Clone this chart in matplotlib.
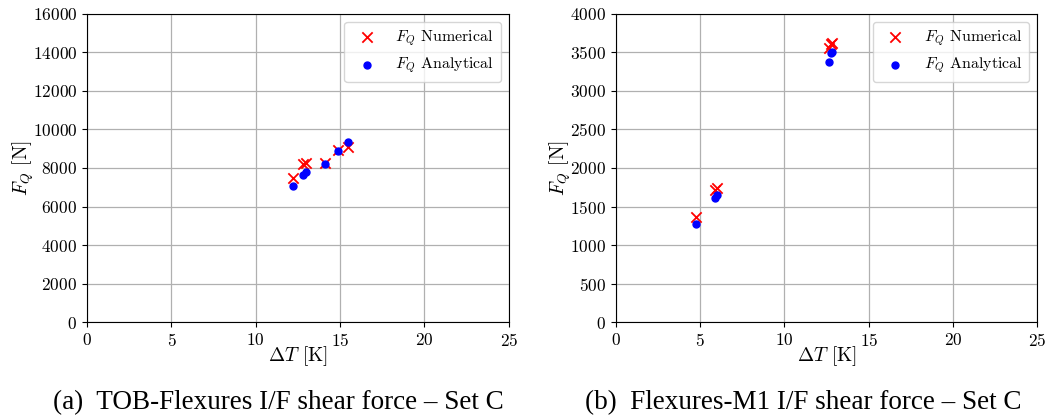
import matplotlib
matplotlib.use("Agg")
import matplotlib.pyplot as plt

plt.rcParams["font.family"] = "serif"
plt.rcParams["font.serif"] = ["cmr10", "DejaVu Serif"]
plt.rcParams["mathtext.fontset"] = "cm"
plt.rcParams["axes.formatter.use_mathtext"] = True

# TOB-Flexures I/F shear force, Set C
dT_a = [12.22, 12.82, 12.95, 14.1, 14.89, 15.48]
fq_num_a = [7465, 8208, 8244, 8244, 8935, 9075]
fq_ana_a = [7065, 7636, 7810, 8190, 8883, 9366]

# Flexures-M1 I/F shear force, Set C
dT_b = [4.76, 5.88, 5.98, 12.65, 12.75, 12.81]
fq_num_b = [1368, 1714, 1736, 3560, 3607, 3620]
fq_ana_b = [1273, 1606, 1650, 3373, 3497, 3500]

fig = plt.figure(figsize=(10.49, 4.2), dpi=100)
ax1 = fig.add_axes([0.083, 0.233, 0.402, 0.734])
ax2 = fig.add_axes([0.587, 0.233, 0.402, 0.734])

panels = [
    (ax1, dT_a, fq_num_a, fq_ana_a, 16000, 0.265,
     "(a)  TOB-Flexures I/F shear force – Set C"),
    (ax2, dT_b, fq_num_b, fq_ana_b, 4000, 0.766,
     "(b)  Flexures-M1 I/F shear force – Set C"),
]

for ax, x, num, ana, ymax, cx, caption in panels:
    ax.scatter(x, num, marker="x", color="red", s=55, linewidths=1.3,
               label=r"$F_Q$ Numerical", zorder=3)
    ax.scatter(x, ana, marker="o", color="blue", s=25,
               label=r"$F_Q$ Analytical", zorder=3)
    ax.set_xlim(0, 25)
    ax.set_ylim(0, ymax)
    ax.grid(True, color="#b0b0b0", linewidth=0.9)
    ax.set_axisbelow(True)
    ax.tick_params(labelsize=12.5)
    ax.set_xlabel(r"$\Delta T$ [K]", fontsize=14, labelpad=-3)
    ax.set_ylabel(r"$F_Q$ [N]", fontsize=14, labelpad=-2)
    ax.legend(loc="upper right", fontsize=11.5, framealpha=0.8)
    fig.text(cx, 0.042, caption, ha="center", va="center", fontsize=19.5,
             family=["Liberation Serif", "DejaVu Serif"])

fig.savefig("out.png", dpi=100)
